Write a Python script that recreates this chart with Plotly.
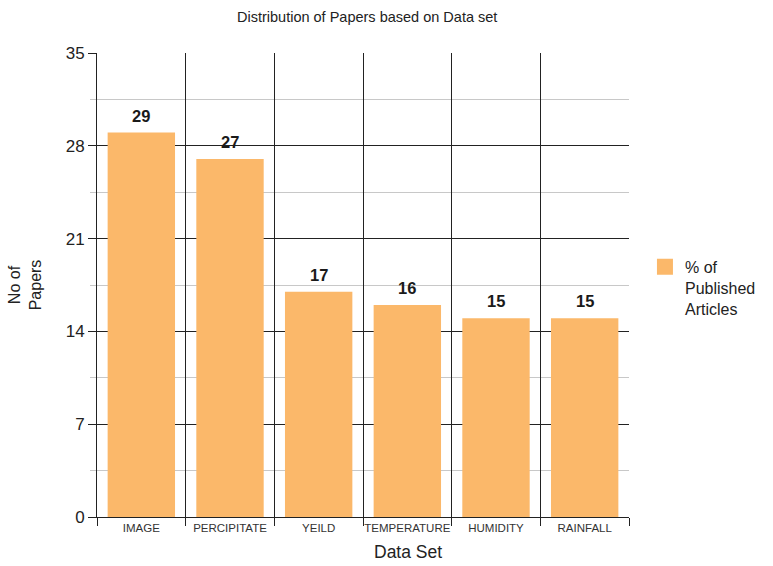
import plotly.graph_objects as go

categories = ["IMAGE", "PERCIPITATE", "YEILD", "TEMPERATURE", "HUMIDITY", "RAINFALL"]
papers = [29, 27, 17, 16, 15, 15]
y_ticks = [0, 7, 14, 21, 28, 35]
series_name = "% of<br>Published<br>Articles"

FONT = "Liberation Sans, Arial, sans-serif"
BAR_COLOR = "#FBB86A"

fig = go.Figure()

fig.add_trace(
    go.Bar(
        x=categories,
        y=papers,
        name=series_name,
        marker=dict(color=BAR_COLOR, line=dict(width=0)),
        showlegend=False,
    )
)

# legend entry with a larger square swatch
fig.add_trace(
    go.Scatter(
        x=[None],
        y=[None],
        mode="markers",
        name=series_name,
        marker=dict(symbol="square", size=16, color=BAR_COLOR),
        showlegend=True,
    )
)

# value labels above each bar
for cat, val in zip(categories, papers):
    fig.add_annotation(
        x=cat,
        y=val,
        text=str(val),
        showarrow=False,
        yanchor="bottom",
        yshift=6,
        font=dict(family=FONT, size=16.5, color="#1a1a1a", weight="bold"),
    )

# x-axis title, placed right of centre
fig.add_annotation(
    x=0.585,
    y=-0.05,
    xref="paper",
    yref="paper",
    text="Data Set",
    showarrow=False,
    xanchor="center",
    yanchor="top",
    font=dict(family=FONT, size=17.5, color="#222"),
)

fig.update_layout(
    width=773,
    height=566,
    margin=dict(l=97, r=141, t=53, b=49),
    paper_bgcolor="white",
    plot_bgcolor="white",
    bargap=0.24,
    font=dict(family=FONT, color="#222"),
    title=dict(
        text="Distribution of Papers based on Data set",
        x=0.475,
        xanchor="center",
        y=0.97,
        yanchor="middle",
        font=dict(size=14.5, color="#222"),
    ),
    legend=dict(
        x=1.03,
        y=0.494,
        xanchor="left",
        yanchor="middle",
        valign="top",
        font=dict(size=16, color="#222"),
        itemsizing="trace",
    ),
)

fig.update_xaxes(
    type="category",
    range=[-0.5, len(categories) - 0.5],
    automargin=False,
    tickson="boundaries",
    tickangle=0,
    ticks="outside",
    ticklen=8,
    tickcolor="#222",
    showgrid=True,
    gridcolor="#222",
    gridwidth=1,
    showline=True,
    linecolor="#222",
    linewidth=1,
    tickfont=dict(size=11.5, color="#333"),
)

fig.update_yaxes(
    range=[0, 35],
    automargin=False,
    tickvals=y_ticks,
    ticks="outside",
    ticklen=8,
    tickcolor="#222",
    showgrid=True,
    gridcolor="#222",
    gridwidth=1,
    showline=True,
    linecolor="#222",
    linewidth=1,
    zeroline=False,
    minor=dict(
        dtick=3.5,
        showgrid=True,
        gridcolor="#c8c8c8",
        gridwidth=1,
        ticks="outside",
        ticklen=6,
        tickcolor="#c8c8c8",
    ),
    tickfont=dict(size=17, color="#222"),
    title=dict(text="No of<br>Papers", font=dict(size=16, color="#222"), standoff=20),
)

fig.write_html("out.html")
